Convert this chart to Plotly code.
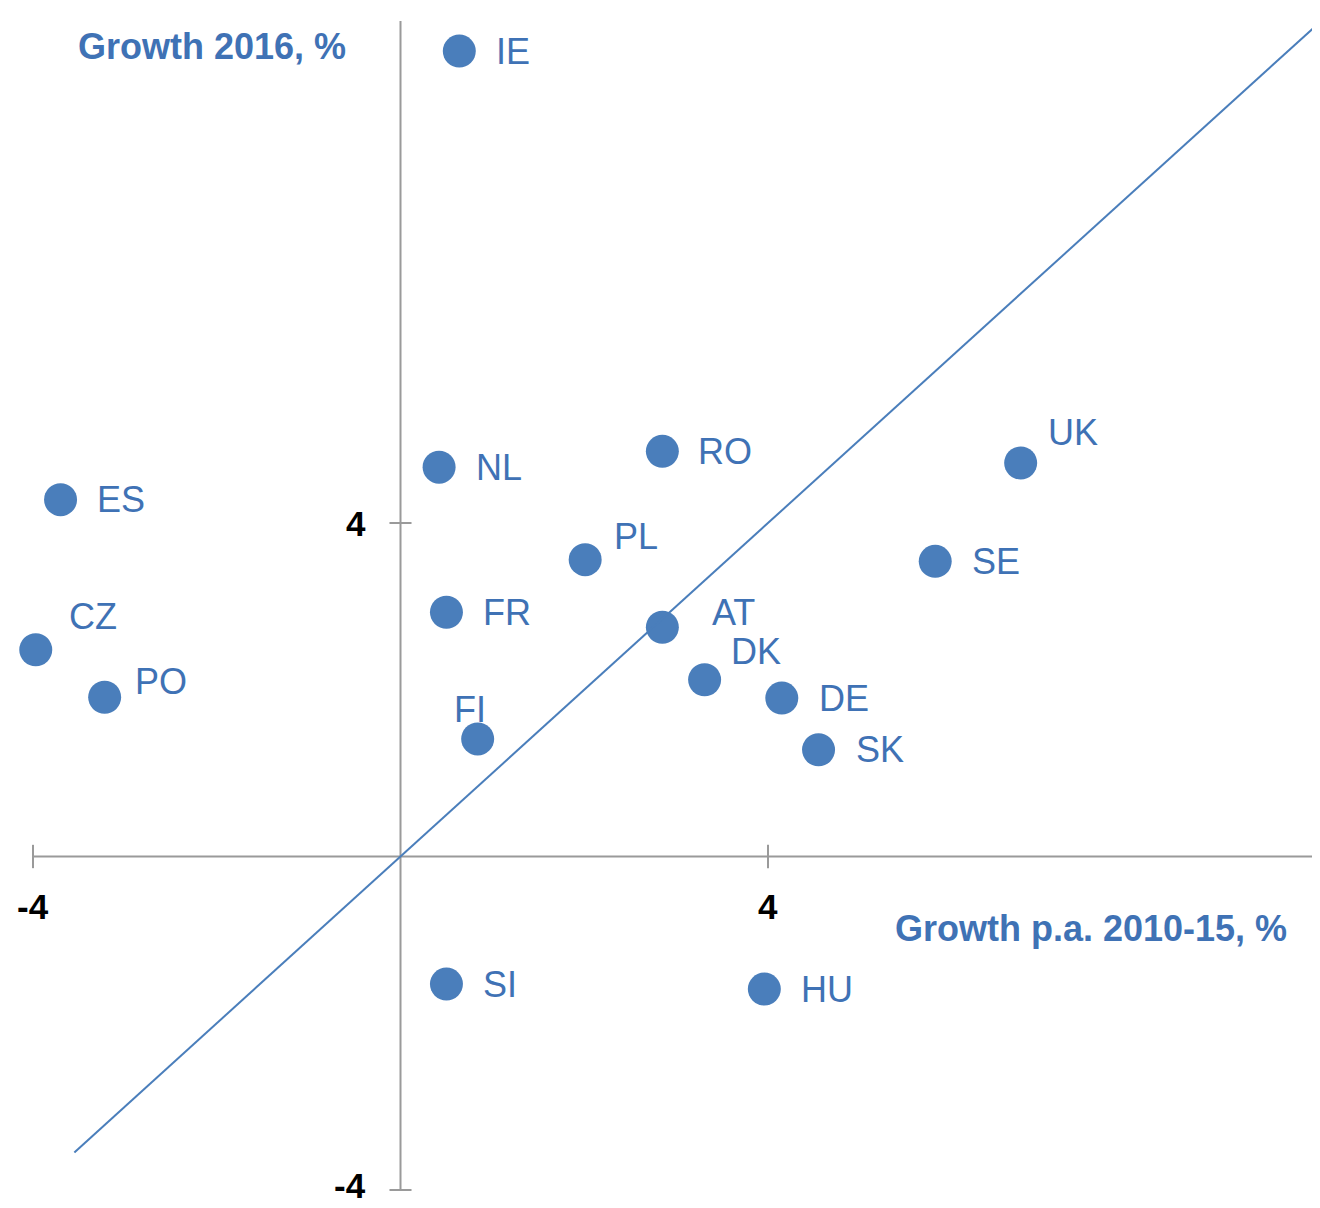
import plotly.graph_objects as go

# ---- data ----
countries = ["IE", "NL", "RO", "UK", "ES", "PL", "SE", "FR", "AT",
             "CZ", "DK", "PO", "DE", "FI", "SK", "SI", "HU"]
growth_2010_15 = [0.64, 0.42, 2.85, 6.75, -3.70, 2.01, 5.82, 0.50, 2.85,
                  -3.97, 3.31, -3.22, 4.15, 0.84, 4.55, 0.50, 3.96]
growth_2016 = [9.66, 4.67, 4.86, 4.72, 4.28, 3.56, 3.54, 2.93, 2.75,
               2.48, 2.12, 1.91, 1.90, 1.41, 1.28, -1.53, -1.59]
diag_x = [-3.55, 10]
tick_values = [-4, 4]
tick_labels = ["-4", "4"]

# ---- label placement (pixel offsets from marker centre) ----
label_offsets = {
    "IE": (35, 0), "NL": (35, 0), "RO": (34, 0), "UK": (25, 30),
    "ES": (34, 0), "PL": (27, 23), "SE": (35, 0), "FR": (35, 0),
    "AT": (48, 15), "CZ": (31, 33), "DK": (24, 28), "PO": (28, 16),
    "DE": (35, 0), "FI": (-26, 29), "SK": (35, 0), "SI": (35, 0),
    "HU": (35, 0),
}

BLUE = "#4a7ebb"
TEXT_BLUE = "#3f72b5"
GREY = "#9a9a9a"
FONT = "Liberation Sans, Arial, sans-serif"

# The page body has an 8px margin, so the figure is 8px smaller each way
W, H = 1312, 1200

fig = go.Figure()

fig.add_trace(go.Scatter(
    x=growth_2010_15, y=growth_2016, mode="markers",
    marker=dict(size=33, color=BLUE), hoverinfo="text", text=countries,
    showlegend=False,
))
fig.add_trace(go.Scatter(
    x=diag_x, y=diag_x, mode="lines",
    line=dict(color=BLUE, width=2), showlegend=False, hoverinfo="skip",
))

annotations = []
for c, x, y in zip(countries, growth_2010_15, growth_2016):
    dx, dy = label_offsets[c]
    annotations.append(dict(
        x=x, y=y, xref="x", yref="y", text=c, showarrow=False,
        xanchor="left", yanchor="middle", xshift=dx, yshift=dy,
        font=dict(family=FONT, size=36, color=TEXT_BLUE),
    ))

# tick labels
for v, t in zip(tick_values, tick_labels):
    annotations.append(dict(
        x=v, y=0, xref="x", yref="y", text=f"<b>{t}</b>", showarrow=False,
        xanchor="center", yanchor="middle", yshift=-50,
        font=dict(family=FONT, size=35, color="black"),
    ))
    annotations.append(dict(
        x=0, y=v, xref="x", yref="y", text=f"<b>{t}</b>", showarrow=False,
        xanchor="right", yanchor="middle", xshift=-33,
        yshift=(4 if v < 0 else 0),
        font=dict(family=FONT, size=35, color="black"),
    ))

# axis titles
annotations.append(dict(
    x=(76 - 8) / W, y=1 - (47 - 8) / H, xref="paper", yref="paper",
    text="<b>Growth 2016, %</b>", showarrow=False,
    xanchor="left", yanchor="middle",
    font=dict(family=FONT, size=36, color=TEXT_BLUE),
))
annotations.append(dict(
    x=(1289 - 8) / W, y=1 - (928 - 8) / H, xref="paper", yref="paper",
    text="<b>Growth p.a. 2010-15, %</b>", showarrow=False,
    xanchor="right", yanchor="middle",
    font=dict(family=FONT, size=36, color=TEXT_BLUE),
))

shapes = [
    dict(type="line", xref="x", yref="y", x0=-4, x1=10.2, y0=0, y1=0,
         line=dict(color=GREY, width=2), layer="below"),
    dict(type="line", xref="x", yref="y", x0=0, x1=0, y0=-4, y1=10.02,
         line=dict(color=GREY, width=2), layer="below"),
]
for v in tick_values:
    shapes.append(dict(type="line", xref="x", yref="y", x0=v, x1=v,
                       y0=-0.14, y1=0.14, line=dict(color=GREY, width=2),
                       layer="below"))
    shapes.append(dict(type="line", xref="x", yref="y", x0=-0.12, x1=0.12,
                       y0=v, y1=v, line=dict(color=GREY, width=2),
                       layer="below"))

fig.update_layout(
    width=W, height=H,
    margin=dict(l=0, r=0, t=0, b=0),
    paper_bgcolor="white", plot_bgcolor="white",
    xaxis=dict(range=[-4.272, 10.008], visible=False, fixedrange=True),
    yaxis=dict(range=[-4.216, 10.177], visible=False, fixedrange=True),
    annotations=annotations, shapes=shapes,
    showlegend=False,
)

fig.write_html("out.html")
